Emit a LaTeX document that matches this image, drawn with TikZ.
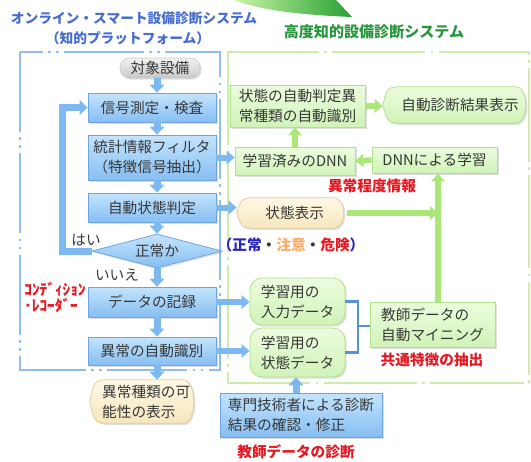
\documentclass[tikz,border=0pt]{standalone}
\usepackage{fontspec}
\setmainfont{Noto Sans CJK JP}
\usetikzlibrary{arrows.meta,shapes.geometric,calc,backgrounds,shadows}
\definecolor{bluebd}{RGB}{110,165,225}
\definecolor{blueT}{RGB}{195,228,253}
\definecolor{blueB}{RGB}{135,190,242}
\definecolor{barrowc}{RGB}{125,185,240}
\definecolor{greenbd}{RGB}{175,225,140}
\definecolor{greenT}{RGB}{236,252,222}
\definecolor{greenB}{RGB}{208,243,184}
\definecolor{garrowc}{RGB}{170,230,120}
\definecolor{tanT}{RGB}{254,248,228}
\definecolor{tanB}{RGB}{246,230,190}
\definecolor{tanbd}{RGB}{225,205,160}
\definecolor{grayT}{RGB}{242,242,242}
\definecolor{grayB}{RGB}{200,200,200}
\definecolor{txt}{RGB}{55,55,55}
\definecolor{redl}{RGB}{230,25,35}
\definecolor{titleb}{RGB}{70,110,210}
\definecolor{titleg}{RGB}{40,150,60}
\definecolor{bframec}{RGB}{145,188,236}
\definecolor{gframec}{RGB}{205,238,170}
\definecolor{brkc}{RGB}{85,145,220}
\definecolor{okc}{RGB}{40,40,190}
\definecolor{cautc}{RGB}{250,170,100}
\definecolor{arcL}{RGB}{200,245,165}
\definecolor{arcR}{RGB}{40,160,50}
\newcommand\dispbg[2]{%
  \path[#2] (#1.west) .. controls ($(#1.north west)+(5,0)$) .. ($(#1.north west)+(22,0)$)
    -- ($(#1.north east)+(-14,0)$) .. controls (#1.north east) and (#1.south east) .. ($(#1.south east)+(-14,0)$)
    -- ($(#1.south west)+(22,0)$) .. controls ($(#1.south west)+(5,0)$) .. (#1.west) -- cycle;}
\begin{document}
\begin{tikzpicture}[x=0.75pt,y=-0.75pt,
  every node/.style={text=txt, font=\fontsize{11}{15}\selectfont, inner sep=1pt},
  shad/.style={drop shadow={opacity=.25,shadow xshift=1.2pt,shadow yshift=-1.2pt}},
  bbox/.style={draw=bluebd, line width=.6pt, top color=blueT, bottom color=blueB, shad, align=center},
  gbox/.style={draw=greenbd, line width=.6pt, top color=greenT, bottom color=greenB, shad, align=center},
  gbgpath/.style={draw=greenbd, line width=.6pt, top color=greenT, bottom color=greenB, shad},
  tbgpath/.style={draw=tanbd, line width=.6pt, top color=tanT, bottom color=tanB, shad},
  plain/.style={draw=none, fill=none, align=center},
  bar/.style={draw=barrowc, line width=5.25pt, -{Triangle[width=11pt,length=6pt]}},
  har/.style={draw=barrowc, line width=4.5pt, -{Triangle[width=10pt,length=6pt]}},
  gar/.style={draw=garrowc, line width=4pt, -{Triangle[width=10pt,length=6pt]}},
  lab/.style={text=redl, font=\fontsize{11}{14}\selectfont\bfseries},
  bframe/.style={draw=bframec, line width=1.7pt, dash pattern=on 60pt off 4pt on 2pt off 4pt on 2pt off 4pt},
  gframe/.style={draw=gframec, line width=1.6pt, dash pattern=on 70pt off 4pt on 2pt off 4pt}]
\useasboundingbox (0,0) rectangle (531,461);

% top green arc arrow
\shade[left color=arcL, right color=arcR] (234,0) .. controls (262,11) and (305,15) .. (352,17) -- (336,0) -- cycle;

% titles
\node[text=titleb, font=\fontsize{10.3}{12}\selectfont\bfseries] (t1) at (134,18) {オンライン・スマート設備診断システム};
\node[text=titleb, font=\fontsize{10.3}{12}\selectfont\bfseries] (t2) at (128,38) {（知的プラットフォーム）};
\node[text=titleg, font=\fontsize{11.3}{13}\selectfont\bfseries] (t3) at (374,32) {高度知的設備診断システム};

% left column
\node[draw=grayB, top color=grayT, bottom color=grayB, rounded corners=7pt, shad, minimum width=60pt, minimum height=15pt] (obj) at (160,68) {対象設備};
\node[bbox, minimum width=96pt, minimum height=21.75pt] (sig) at (152,107.5) {信号測定・検査};
\node[bbox, minimum width=96pt, minimum height=33.75pt] (stat) at (152,157.5) {統計情報フィルタ\\（特徴信号抽出）};
\node[bbox, minimum width=96pt, minimum height=21.75pt] (auto) at (152,207.5) {自動状態判定};
\node[diamond, aspect=3.8, draw=bluebd, line width=.6pt, top color=blueT, bottom color=blueB, shad, minimum width=97.5pt, minimum height=25.5pt] (dia) at (157,251) {正常か};
\node[bbox, minimum width=96pt, minimum height=22.5pt] (rec) at (152,302) {データの記録};
\node[bbox, minimum width=96pt, minimum height=21pt] (ident) at (152,351) {異常の自動識別};
\node[plain, align=left, minimum width=80.25pt, minimum height=32.25pt] (poss) at (143.5,401.5) {\hspace*{4pt}異常種類の可\\\hspace*{4pt}能性の表示};

\node (yes) at (86,240) {はい};
\node (no) at (117,275) {いいえ};
\node[lab, font=\fontsize{11.5}{14}\selectfont\bfseries] (cr1) at (55,289) {ｺﾝﾃﾞｨｼｮﾝ};
\node[lab, font=\fontsize{11.5}{14}\selectfont\bfseries] (cr2) at (51,306) {･ﾚｺｰﾀﾞｰ};

% right column
\node[gbox, minimum width=101.25pt, minimum height=31.5pt] (judge) at (297.5,106) {状態の自動判定異\\常種類の自動識別};
\node[plain, minimum width=109.5pt, minimum height=27pt] (res) at (456,105) {\hspace*{6pt}自動診断結果表示};
\node[gbox, minimum width=90pt, minimum height=21pt] (dnn1) at (295,161) {学習済みのDNN};
\node[gbox, minimum width=93.75pt, minimum height=19.5pt] (dnn2) at (434.5,160) {DNNによる学習};
\node[lab] (deg) at (372,186) {異常程度情報};
\node[plain, minimum width=82.5pt, minimum height=22.5pt] (disp) at (292,213) {\hspace*{4pt}状態表示};
\node[font=\fontsize{11}{14}\selectfont\bfseries] (lvl) at (291,245) {\textcolor{okc}{（正常}・\textcolor{cautc}{注意}・\textcolor{redl}{危険}\textcolor{okc}{）}};
\node[gbox, rounded corners=9pt, align=left, minimum width=71.25pt, minimum height=35.25pt] (in) at (297.5,301.5) {学習用の\\入力データ};
\node[gbox, rounded corners=9pt, align=left, minimum width=71.25pt, minimum height=36.75pt] (st) at (297.5,352.5) {学習用の\\状態データ};
\node[gbox, align=left, minimum width=93.75pt, minimum height=33.75pt] (mine) at (432.5,324.5) {教師データの\\自動マイニング};
\node[lab] (com) at (432,360) {共通特徴の抽出};
\node[bbox, align=left, minimum width=121.5pt, minimum height=33pt] (exp) at (301,415) {専門技術者による診断\\結果の確認・修正};
\node[lab] (tdiag) at (296,452) {教師データの診断};

% backgrounds: frames and display shapes
\begin{scope}[on background layer]
  \draw[bframe] (20,52) rectangle (220,370);
  \draw[gframe] (228,52) rectangle (529,383);
  \dispbg{poss}{tbgpath}
  \dispbg{disp}{tbgpath}
  \dispbg{res}{gbgpath}
\end{scope}

% coordinates for connectors
\coordinate (ax) at (157,0);
\coordinate (lp) at (62,251);
\coordinate (vl) at (438,0);
\coordinate (sx) at (296,0);
\coordinate (brk) at (358,326);

% left flow arrows
\draw[bar] (obj.south -| ax) -- (sig.north -| ax);
\draw[bar] (sig.south -| ax) -- (stat.north -| ax);
\draw[bar] (stat.south -| ax) -- (auto.north -| ax);
\draw[bar] (auto.south -| ax) -- (dia.north);
\draw[bar] (dia.south) -- (rec.north -| ax);
\draw[bar] (rec.south -| ax) -- (ident.north -| ax);
\draw[bar] (ident.south -| ax) -- (poss.north -| ax);
\draw[bar] (dia.west) -- (lp) |- (sig.west);

% horizontal arrows into the right system
\draw[har] (stat.east) -- (dnn1.west |- stat.east);
\draw[har] (auto.east) -- (disp.west |- auto.east);
\draw[har] (rec.east) -- (in.west |- rec.east);
\draw[har] (ident.east) -- (st.west |- ident.east);

% green arrows
\draw[gar] (judge.east) -- (res.west |- judge.east);
\draw[gar] (dnn1.north) -- (judge.south -| dnn1.north);
\draw[gar] (dnn2.west) -- (dnn1.east);
\draw[gar] (disp.east) -- (disp.east -| vl);
\draw[gar] (mine.north -| vl) -- (dnn2.south -| vl);

% bracket
\draw[brkc, line width=1.6pt] (in.east) -| (brk);
\draw[brkc, line width=1.6pt] (st.east) -| (brk);
\draw[brkc, line width=1.6pt] (brk) -- (mine.west |- brk);

% expert to state data
\draw[bar] (exp.north -| sx) -- (st.south -| sx);
\end{tikzpicture}
\end{document}
